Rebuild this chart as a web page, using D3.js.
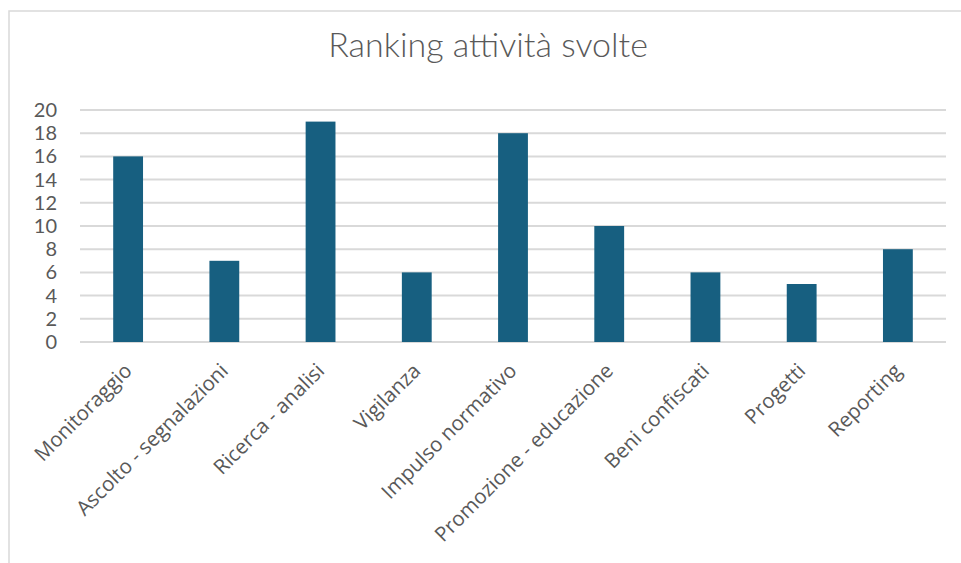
<!DOCTYPE html>
<html>
<head>
<meta charset="utf-8">
<script src="https://cdn.jsdelivr.net/npm/d3@7"></script>
<style>
  html, body { margin: 0; padding: 0; background: #ffffff; }
  svg { display: block; }
</style>
</head>
<body>
<svg id="chart" width="961" height="563"></svg>
<script>
// Activities and how many times each was mentioned
const categories = [
  "Monitoraggio",
  "Ascolto - segnalazioni",
  "Ricerca - analisi",
  "Vigilanza",
  "Impulso normativo",
  "Promozione - educazione",
  "Beni confiscati",
  "Progetti",
  "Reporting"
];
const values = [16, 7, 19, 6, 18, 10, 6, 5, 8];
const yTicks = [0, 2, 4, 6, 8, 10, 12, 14, 16, 18, 20];
const title = "Ranking attività svolte";

const W = 961, H = 563;
const plot = { left: 80, right: 946, top: 110, bottom: 342 };
const textColor = "#595959";
const gridColor = "#d9d9d9";
const barColor = "#175f80";

const svg = d3.select("#chart");

// Chart area frame
svg.append("rect")
  .attr("x", 9).attr("y", 11)
  .attr("width", W + 20).attr("height", H + 20)
  .attr("fill", "#ffffff")
  .attr("stroke", gridColor)
  .attr("stroke-width", 1.5);

// Title
svg.append("text")
  .attr("x", 488).attr("y", 57)
  .attr("text-anchor", "middle")
  .attr("font-family", "Lato, 'Open Sans', sans-serif")
  .attr("font-weight", 300)
  .attr("font-size", 34)
  .attr("fill", textColor)
  .text(title);

const x = d3.scaleBand()
  .domain(categories)
  .range([plot.left, plot.right])
  .paddingInner(0.69)
  .paddingOuter(0.345);

const y = d3.scaleLinear()
  .domain([0, 20])
  .range([plot.bottom, plot.top]);

// Horizontal gridlines
svg.append("g")
  .selectAll("line")
  .data(yTicks)
  .join("line")
  .attr("x1", plot.left).attr("x2", plot.right)
  .attr("y1", d => y(d)).attr("y2", d => y(d))
  .attr("stroke", gridColor)
  .attr("stroke-width", 2);

// Y axis labels
const yAxis = d3.axisLeft(y).tickValues(yTicks).tickSize(0).tickPadding(0);
const yg = svg.append("g")
  .attr("transform", `translate(57,0)`)
  .call(yAxis);
yg.select(".domain").remove();
yg.selectAll("text")
  .attr("font-family", "Lato, 'Open Sans', sans-serif")
  .attr("font-size", 20)
  .attr("fill", textColor);

// Bars
svg.append("g")
  .selectAll("rect")
  .data(values)
  .join("rect")
  .attr("x", (d, i) => x(categories[i]))
  .attr("y", d => y(d))
  .attr("width", x.bandwidth())
  .attr("height", d => y(0) - y(d))
  .attr("fill", barColor);

// Category labels, rotated
const xAxis = d3.axisBottom(x).tickSize(0).tickPadding(0);
const xg = svg.append("g")
  .attr("transform", `translate(0,${plot.bottom})`)
  .call(xAxis);
xg.select(".domain").remove();
xg.selectAll("text")
  .attr("font-family", "'Open Sans', sans-serif")
  .attr("font-size", 20.5)
  .attr("fill", textColor)
  .attr("text-anchor", "end")
  .attr("dy", "0.35em")
  .attr("transform", "translate(0,25) rotate(-45)");
</script>
</body>
</html>
